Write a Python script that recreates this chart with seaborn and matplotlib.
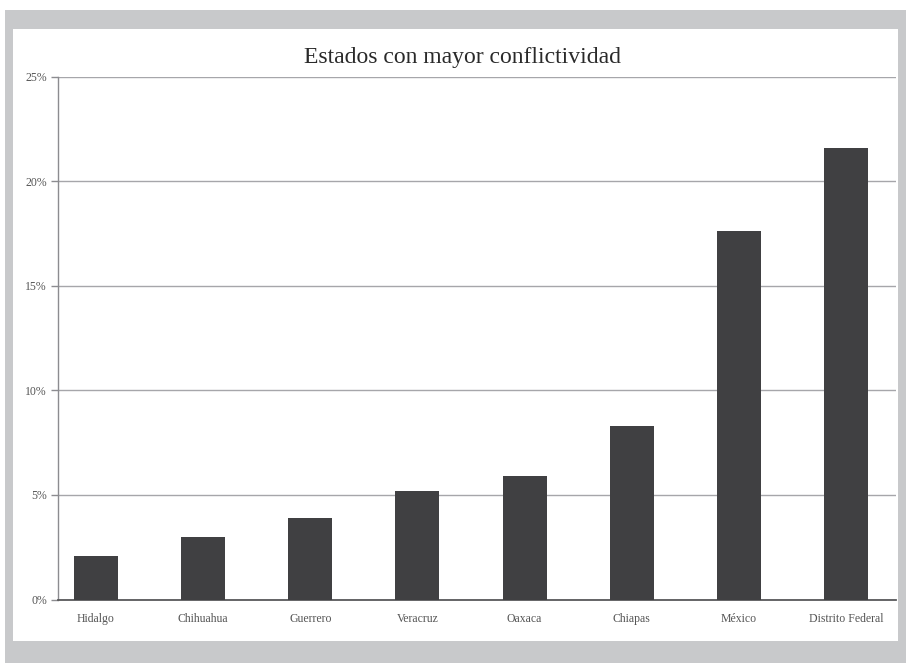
import matplotlib
matplotlib.use("Agg")
import matplotlib.pyplot as plt
from matplotlib.patches import Rectangle
from matplotlib.ticker import FuncFormatter
import seaborn as sns
import pandas as pd

# Share of conflicts by state (percent)
estados = ["Hidalgo", "Chihuahua", "Guerrero", "Veracruz", "Oaxaca",
           "Chiapas", "México", "Distrito Federal"]
porcentaje = [2.1, 3.0, 3.9, 5.2, 5.9, 8.3, 17.6, 21.6]
y_ticks = [0, 5, 10, 15, 20, 25]
titulo = "Estados con mayor conflictividad"

df = pd.DataFrame({"estado": estados, "pct": porcentaje})

sns.set_theme(style="white")
plt.rcParams["font.family"] = ["Liberation Serif", "DejaVu Serif"]

W, H = 906, 663
fig = plt.figure(figsize=(W / 100, H / 100), dpi=100)
fig.patch.set_facecolor("white")

# Grey mat with a white card on top
fig.patches.append(Rectangle((5 / W, 0), 1 - 5 / W, 1 - 10 / H,
                             transform=fig.transFigure, facecolor="#c8c9cb",
                             edgecolor="none", zorder=-3))
fig.patches.append(Rectangle((13 / W, 22 / H), (898 - 13) / W, (641 - 29) / H,
                             transform=fig.transFigure, facecolor="white",
                             edgecolor="none", zorder=-2))

ax = fig.add_axes([58 / W, 1 - 599.5 / H, (896 - 58) / W, (599.5 - 76.5) / H])
ax.set_facecolor("none")

sns.barplot(data=df, x="estado", y="pct", color="#404042", width=0.41,
            saturation=1, linewidth=0, ax=ax, zorder=3)

ax.set_ylim(0, 25)
ax.set_xlim(-0.355, len(estados) - 1 + 0.467)
ax.set_yticks(y_ticks)
ax.yaxis.set_major_formatter(FuncFormatter(lambda v, _: f"{v:.0f}%"))
ax.yaxis.grid(True, color="#a6a6aa", linewidth=1.0, zorder=0)
ax.set_axisbelow(True)
ax.set_xlabel("")
ax.set_ylabel("")

for side in ("top", "right"):
    ax.spines[side].set_visible(False)
ax.spines["left"].set_color("#8c8c90")
ax.spines["left"].set_linewidth(1.0)
ax.spines["bottom"].set_color("#58585a")
ax.spines["bottom"].set_linewidth(1.3)

ax.tick_params(axis="y", which="major", left=True, length=5, width=1,
               color="#8c8c90", labelsize=8.5, labelcolor="#555555", pad=3)
ax.tick_params(axis="x", which="major", bottom=False, labelsize=8.5,
               labelcolor="#555555", pad=4)

fig.text(462 / W, 1 - 57 / H, titulo, ha="center", va="center",
         fontsize=17, color="#2a2a2a")

fig.savefig("out.png", dpi=100)
